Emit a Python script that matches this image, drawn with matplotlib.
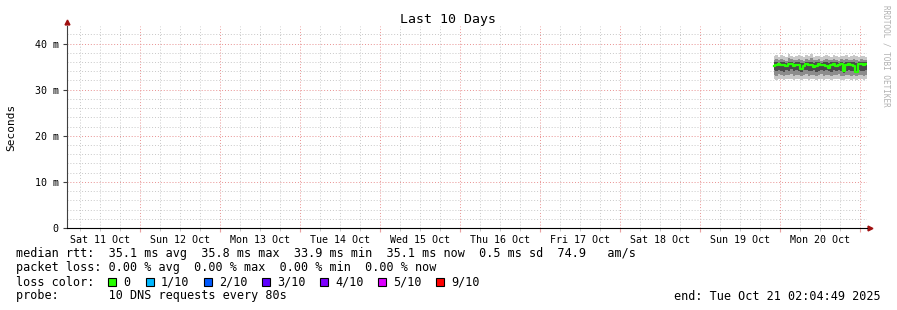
import numpy as np
import pandas as pd
import matplotlib
matplotlib.use("Agg")
import matplotlib.pyplot as plt
import matplotlib.dates as mdates
from matplotlib.ticker import FuncFormatter, MultipleLocator
from matplotlib.patches import Rectangle

plt.rcParams['font.family'] = 'DejaVu Sans Mono'

# --- data (ms), one sample every 45 minutes ---
times = pd.date_range('2025-10-19 22:15', periods=38, freq='45min')
median_ms = [35.2, 35.4, 35.5, 35.3, 35.4, 35.2, 35.5, 35.6, 35.1, 35.3,
             35.4, 34.4, 35.2, 35.5, 35.3, 35.4, 35.0, 35.2, 35.5, 35.3,
             35.4, 35.1, 34.8, 35.3, 35.5, 35.2, 35.4, 35.6, 34.0, 35.3,
             35.5, 35.4, 35.2, 33.9, 35.5, 35.6, 35.4, 35.5]
outer_hi = [37.2, 37.5, 37.0, 37.6, 37.3, 37.1, 37.7, 37.4, 37.0, 37.3,
            37.6, 37.2, 37.0, 37.5, 37.3, 37.8, 37.1, 37.2, 37.4, 37.0,
            37.3, 37.6, 37.2, 37.1, 37.5, 37.3, 37.0, 37.4, 37.2, 37.6,
            37.1, 37.3, 37.5, 37.2, 37.0, 37.4, 37.3, 37.1]
outer_lo = [32.3, 32.1, 32.4, 32.2, 32.0, 32.3, 32.2, 32.4, 32.1, 32.3,
            32.2, 32.0, 32.3, 32.4, 32.1, 32.2, 32.3, 32.0, 32.2, 32.4,
            32.1, 32.3, 32.2, 32.0, 32.3, 32.2, 32.4, 32.1, 32.0, 32.2,
            32.3, 32.1, 32.2, 32.0, 32.3, 32.2, 32.1, 32.3]
mid_hi = [36.5, 36.7, 36.4, 36.6, 36.5, 36.3, 36.8, 36.6, 36.4, 36.5,
          36.7, 36.4, 36.3, 36.6, 36.5, 36.8, 36.4, 36.5, 36.6, 36.3,
          36.5, 36.7, 36.4, 36.4, 36.6, 36.5, 36.3, 36.6, 36.4, 36.7,
          36.4, 36.5, 36.6, 36.4, 36.3, 36.6, 36.5, 36.4]
mid_lo = [33.1, 33.0, 33.3, 33.1, 32.9, 33.2, 33.1, 33.3, 33.0, 33.2,
          33.1, 32.9, 33.2, 33.3, 33.0, 33.1, 33.2, 32.9, 33.1, 33.3,
          33.0, 33.2, 33.1, 32.9, 33.2, 33.1, 33.3, 33.0, 32.9, 33.1,
          33.2, 33.0, 33.1, 32.9, 33.2, 33.1, 33.0, 33.2]
inner_hi = [35.9, 36.0, 35.8, 36.1, 35.9, 35.8, 36.1, 36.0, 35.8, 35.9,
            36.0, 35.8, 35.8, 36.0, 35.9, 36.1, 35.8, 35.9, 36.0, 35.8,
            35.9, 36.0, 35.8, 35.9, 36.0, 35.9, 35.8, 36.0, 35.8, 36.0,
            35.9, 35.9, 36.0, 35.8, 35.9, 36.0, 35.9, 35.9]
inner_lo = [34.2, 34.0, 34.3, 34.1, 33.9, 34.2, 34.1, 34.4, 34.0, 34.2,
            34.1, 33.8, 34.2, 34.3, 34.0, 34.1, 34.2, 33.9, 34.1, 34.3,
            34.0, 34.2, 34.0, 33.9, 34.2, 34.1, 34.3, 34.0, 33.7, 34.1,
            34.2, 34.0, 34.1, 33.6, 34.2, 34.1, 34.0, 34.2]

loss_labels = ['0', '1/10', '2/10', '3/10', '4/10', '5/10', '9/10']
loss_colors = ['#26ff00', '#00b8ff', '#0059ff', '#5e00ff', '#7e00ff', '#dd00ff', '#ff0000']

t_start = pd.Timestamp('2025-10-11 02:04:49')
t_end = pd.Timestamp('2025-10-21 02:04:49')

fig = plt.figure(figsize=(8.97, 3.10), dpi=100)
ax = fig.add_axes([67 / 897, 82 / 310, 800 / 897, 202 / 310])

s = lambda v: np.array(v) / 1000.0
ax.fill_between(times, s(outer_lo), s(outer_hi), step='mid', color='#c8c8c8', lw=0)
ax.fill_between(times, s(mid_lo), s(mid_hi), step='mid', color='#8c8c8c', lw=0)
ax.fill_between(times, s(inner_lo), s(inner_hi), step='mid', color='#4a4a4a', lw=0)
ax.plot(times, s(median_ms), drawstyle='steps-mid', color='#26ff00', lw=1.6)

ax.set_xlim(t_start, t_end)
ax.set_ylim(0, 0.0438)

# x axis: red grid at midnight, grey every 6h, labels at noon
ax.xaxis.set_major_locator(mdates.DayLocator())
ax.xaxis.set_major_formatter(FuncFormatter(lambda x, p: ''))
ax.xaxis.set_minor_locator(mdates.HourLocator(byhour=[6, 12, 18]))
def xlab(x, p):
    d = mdates.num2date(x)
    return d.strftime('%a %d Oct') if d.hour == 12 else ''
ax.xaxis.set_minor_formatter(FuncFormatter(xlab))

ax.yaxis.set_major_locator(MultipleLocator(0.01))
ax.yaxis.set_minor_locator(MultipleLocator(0.002))
ax.yaxis.set_major_formatter(FuncFormatter(lambda v, p: '0' if v == 0 else f'{v * 1000:.0f} m'))

ax.grid(which='major', color='#e89090', ls=(0, (1, 2)), lw=0.7)
ax.grid(which='minor', color='#c8c8c8', ls=(0, (1, 2)), lw=0.7)
ax.set_axisbelow(True)

ax.tick_params(axis='x', which='major', length=3, color='#e8a0a0', direction='out')
ax.tick_params(axis='x', which='minor', length=2, color='#c0c0c0', labelsize=7.2, pad=3)
ax.tick_params(axis='y', which='major', length=3, color='#404040', labelsize=7.2, pad=3)
ax.tick_params(axis='y', which='minor', length=0)

for sp in ['top', 'right']:
    ax.spines[sp].set_visible(False)
ax.spines['left'].set_color('#404040')
ax.spines['bottom'].set_color('black')
ax.spines['left'].set_linewidth(0.8)
ax.spines['bottom'].set_linewidth(0.8)

# arrows
ax.plot(1.004, 0, marker='>', color='#a01010', ms=3.5, transform=ax.transAxes, clip_on=False)
ax.plot(0, 1.02, marker='^', color='#a01010', ms=3.5, transform=ax.transAxes, clip_on=False)

fig.text(11 / 897, 1 - 127 / 310, 'Seconds', rotation=90, ha='center', va='center', fontsize=8)
fig.text(448 / 897, 1 - 19 / 310, 'Last 10 Days', ha='center', va='center', fontsize=9.5)
fig.text(886 / 897, 1 - 5 / 310, 'RRDTOOL / TOBI OETIKER', rotation=-90, ha='center', va='top',
         fontsize=5.5, color='#b0b0b0')

fs = 8.5
y0 = 1 - 254 / 310
dy = 14 / 310
fig.text(16 / 897, y0, 'median rtt:  35.1 ms avg  35.8 ms max  33.9 ms min  35.1 ms now  0.5 ms sd  74.9   am/s',
         va='center', fontsize=fs)
fig.text(16 / 897, y0 - dy, 'packet loss: 0.00 % avg  0.00 % max  0.00 % min  0.00 % now',
         va='center', fontsize=fs)
fig.text(16 / 897, y0 - 2 * dy, 'loss color:', va='center', fontsize=fs)
box_x = [108, 146, 204, 262, 320, 378, 436]
for bx, lab, col in zip(box_x, loss_labels, loss_colors):
    fig.patches.append(Rectangle((bx / 897, 1 - 286 / 310), 8 / 897, 8 / 310, facecolor=col,
                                 edgecolor='black', lw=0.8, transform=fig.transFigure))
    fig.text((bx + 15) / 897, y0 - 2 * dy, lab, va='center', fontsize=fs)
fig.text(16 / 897, y0 - 3 * dy, 'probe:       10 DNS requests every 80s', va='center', fontsize=fs)
fig.text(881 / 897, y0 - 3 * dy, 'end: Tue Oct 21 02:04:49 2025', ha='right', va='center', fontsize=fs)

fig.savefig('out.png', dpi=100)
